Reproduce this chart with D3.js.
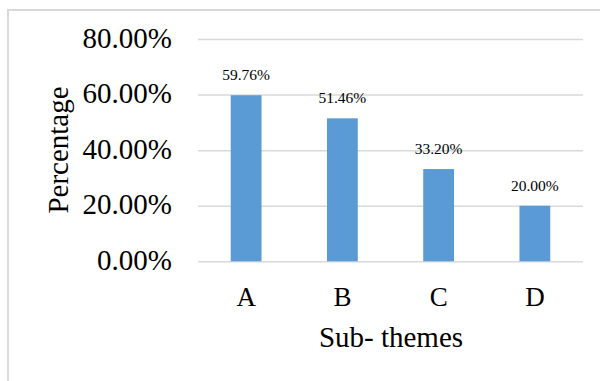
<!DOCTYPE html>
<html>
<head>
<meta charset="utf-8">
<script src="https://cdn.jsdelivr.net/npm/d3@7"></script>
<style>
  html, body { margin: 0; padding: 0; background: #fff; }
  svg { display: block; }
  text { font-family: "Liberation Serif", "Times New Roman", serif; fill: #000; }
</style>
</head>
<body>
<svg id="chart" width="600" height="381"></svg>
<script>
// Share of responses per sub-theme
const categories = ["A", "B", "C", "D"];
const values = [0.5976, 0.5146, 0.3320, 0.2000];
const yTicks = [0, 0.2, 0.4, 0.6, 0.8];
const xTitle = "Sub- themes";
const yTitle = "Percentage";

const svg = d3.select("#chart");
const W = 600, H = 381;
const plot = { left: 198, right: 583, top: 39, bottom: 261.3 };

// outer chart frame (open on the right and bottom edges of the page)
svg.append("rect")
  .attr("x", 8).attr("y", 10)
  .attr("width", W + 10).attr("height", H + 10)
  .attr("fill", "#fff")
  .attr("stroke", "#d9d9d9")
  .attr("stroke-width", 2);

const x = d3.scaleBand()
  .domain(categories)
  .range([plot.left, plot.right])
  .paddingInner(0.68)
  .paddingOuter(0.34);

const y = d3.scaleLinear()
  .domain([0, 0.8])
  .range([plot.bottom, plot.top]);

const pct = d3.format(".2%");

// horizontal gridlines and y tick labels
const yAxis = d3.axisLeft(y)
  .tickValues(yTicks)
  .tickFormat(pct)
  .tickSize(-(plot.right - plot.left))
  .tickPadding(26);

const gy = svg.append("g")
  .attr("transform", `translate(${plot.left},0)`)
  .call(yAxis);
gy.select(".domain").remove();
gy.selectAll(".tick line")
  .attr("stroke", "#d9d9d9")
  .attr("stroke-width", 1.5);
gy.selectAll(".tick text")
  .attr("font-size", 29)
  .attr("dy", "0.28em");

// bars
svg.append("g").selectAll("rect")
  .data(values)
  .join("rect")
  .attr("x", (d, i) => x(categories[i]))
  .attr("y", d => y(d))
  .attr("width", x.bandwidth())
  .attr("height", d => y(0) - y(d))
  .attr("fill", "#5b9bd5");

// value labels above bars
svg.append("g").selectAll("text")
  .data(values)
  .join("text")
  .attr("x", (d, i) => x(categories[i]) + x.bandwidth() / 2)
  .attr("y", d => y(d) - 15)
  .attr("text-anchor", "middle")
  .attr("font-size", 15.5)
  .text(d => pct(d));

// category axis
const xAxis = d3.axisBottom(x).tickSize(0).tickPadding(0);
const gx = svg.append("g")
  .attr("transform", `translate(0,${plot.bottom})`)
  .call(xAxis);
gx.select(".domain").remove();
gx.selectAll(".tick text")
  .attr("font-size", 27)
  .attr("dy", 0)
  .attr("y", 45);

// axis titles
svg.append("text")
  .attr("x", 391)
  .attr("y", 347)
  .attr("text-anchor", "middle")
  .attr("font-size", 29)
  .text(xTitle);

svg.append("text")
  .attr("transform", "translate(67.5,150) rotate(-90)")
  .attr("text-anchor", "middle")
  .attr("font-size", 29)
  .text(yTitle);
</script>
</body>
</html>
